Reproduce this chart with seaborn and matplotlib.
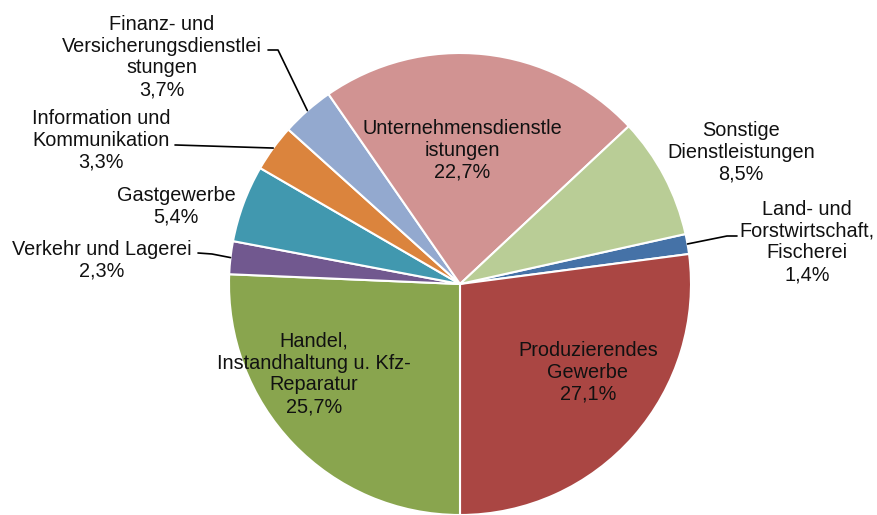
import numpy as np
import matplotlib
matplotlib.use("Agg")
import matplotlib.pyplot as plt
import seaborn as sns

# ─── Data ─────────────────────────────────────────────────────────────────────
SECTORS = [
    "Land- und\nForstwirtschaft,\nFischerei",
    "Produzierendes\nGewerbe",
    "Handel,\nInstandhaltung u. Kfz-\nReparatur",
    "Verkehr und Lagerei",
    "Gastgewerbe",
    "Information und\nKommunikation",
    "Finanz- und\nVersicherungsdienstlei\nstungen",
    "Unternehmensdienstle\nistungen",
    "Sonstige\nDienstleistungen",
]
SHARES = [1.4, 27.1, 25.7, 2.3, 5.4, 3.3, 3.7, 22.7, 8.5]
COLORS = ["#4572A7", "#AA4643", "#89A54E", "#71588F", "#4198AF",
          "#DB843D", "#93A9CF", "#D19392", "#B9CD96"]

# ─── Layout (pixel coords, y measured from top) ──────────────────────────────
W, H = 877, 515
CENTER = (460, 284)
RADIUS = 231
LABEL_POS = [(807, 242), (588, 372), (314, 374), (102, 260), (176, 206),
             (101, 140), (162, 57), (462, 150), (741, 152)]
# leader lines: (text-side start, elbow) or None for labels inside the slice
LEADERS = [((737, 236), (727, 236)), None, None, ((198, 253), (212, 254)),
           None, ((175, 145), (176, 145)), ((268, 50), (278, 50)), None, None]


def px(x, y):
    return x, H - y


sns.set_theme(style="white")
plt.rcParams["font.family"] = ["Liberation Sans", "DejaVu Sans"]

fig = plt.figure(figsize=(W / 100, H / 100), dpi=100)
ax = fig.add_axes([0, 0, 1, 1])

# start so that the Produzierendes/Handel border sits at 6 o'clock
total = sum(SHARES)
start = -90 + (SHARES[0] + SHARES[1]) / total * 360
wedges, _ = ax.pie(
    SHARES,
    colors=sns.color_palette(COLORS),
    startangle=start,
    counterclock=False,
    radius=RADIUS,
    center=px(*CENTER),
    wedgeprops=dict(edgecolor="white", linewidth=1.5),
    frame=True,
)

for w, lab, share, pos, lead in zip(wedges, SECTORS, SHARES, LABEL_POS, LEADERS):
    pct = f"{share:.1f}".replace(".", ",")
    ax.text(*px(*pos), f"{lab}\n{pct}%", ha="center", va="center",
            fontsize=14.3, color="#111111", linespacing=1.18)
    if lead is not None:
        mid = np.deg2rad((w.theta1 + w.theta2) / 2)
        edge = (CENTER[0] + RADIUS * np.cos(mid), CENTER[1] - RADIUS * np.sin(mid))
        pts = [lead[0], lead[1], edge]
        ax.plot([px(*p)[0] for p in pts], [px(*p)[1] for p in pts],
                color="black", linewidth=1.2)

ax.set_xlim(0, W)
ax.set_ylim(0, H)
ax.set_aspect("equal")
ax.axis("off")

plt.savefig("out.png", dpi=100)
plt.close()
